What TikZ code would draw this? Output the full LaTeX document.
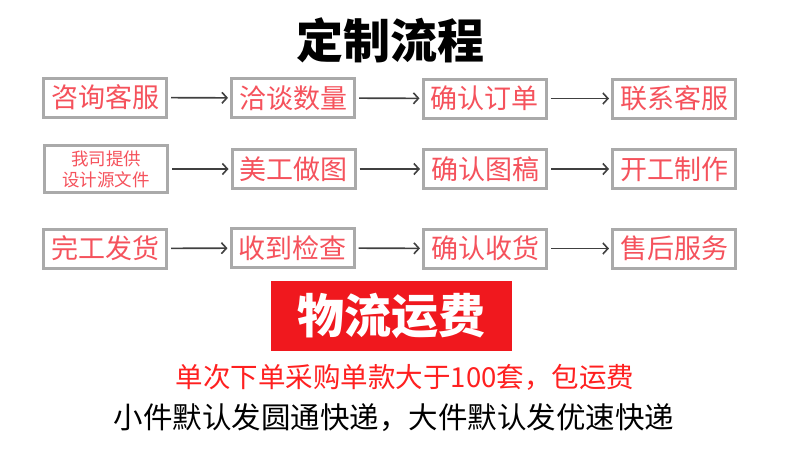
\documentclass[tikz,border=0pt]{standalone}
\usepackage{fontspec}
\setmainfont{Noto Sans CJK SC}
\usetikzlibrary{arrows.meta}
\definecolor{boxgray}{RGB}{170,170,170}
\definecolor{txtred}{RGB}{245,82,92}
\definecolor{barred}{RGB}{240,24,30}
\definecolor{linered}{RGB}{255,32,32}
\definecolor{arrgray}{RGB}{64,64,64}
\tikzset{
  stepbox/.style={draw=boxgray, line width=3pt, fill=white, inner sep=0pt,
    minimum width=123pt, minimum height=39pt, text=txtred,
    font=\fontsize{27}{30}\selectfont},
  flow/.style={draw=arrgray, line width=1.6pt,
    -{Straight Barb[length=5pt,width=11pt,line width=1.6pt]}, shorten <=3pt, shorten >=2pt}
}
\begin{document}
\begin{tikzpicture}[x=1pt,y=-1pt]
\useasboundingbox[fill=white] (0,0) rectangle (790,451);
\node[font=\fontsize{47}{50}\selectfont\bfseries] (title) at (390,40) {定制流程};
% row 1
\node[stepbox] (a1) at (105,97.5) {咨询客服};
\node[stepbox] (a2) at (293,98) {洽谈数量};
\node[stepbox] (a3) at (484.5,98.5) {确认订单};
\node[stepbox] (a4) at (674,98.5) {联系客服};
% row 2
\node[stepbox, minimum height=47pt, align=center, font=\fontsize{17.5}{21}\selectfont] (b1) at (106,169) {我司提供\\设计源文件};
\node[stepbox] (b2) at (293.5,169) {美工做图};
\node[stepbox] (b3) at (485,169) {确认图稿};
\node[stepbox] (b4) at (674,169) {开工制作};
% row 3
\node[stepbox] (c1) at (105,248.5) {完工发货};
\node[stepbox] (c2) at (292.5,248) {收到检查};
\node[stepbox] (c3) at (485,248.5) {确认收货};
\node[stepbox] (c4) at (674,248.5) {售后服务};
\foreach \r in {a,b,c}{
  \draw[flow] (\r1) -- (\r2);
  \draw[flow] (\r2) -- (\r3);
  \draw[flow] (\r3) -- (\r4);
}
% shipping bar
\node[fill=barred, minimum width=241pt, minimum height=70pt, inner sep=0pt,
  text=white, font=\fontsize{47}{50}\selectfont\bfseries] (fee) at (391,316) {物流运费};
\node[text=linered, font=\fontsize{27.5}{30}\selectfont] (l1) at (405,377) {单次下单采购单款大于100套，包运费};
\node[text=black, font=\fontsize{29.5}{32}\selectfont] (l2) at (394,418) {小件默认发圆通快递，大件默认发优速快递};
\end{tikzpicture}
\end{document}
